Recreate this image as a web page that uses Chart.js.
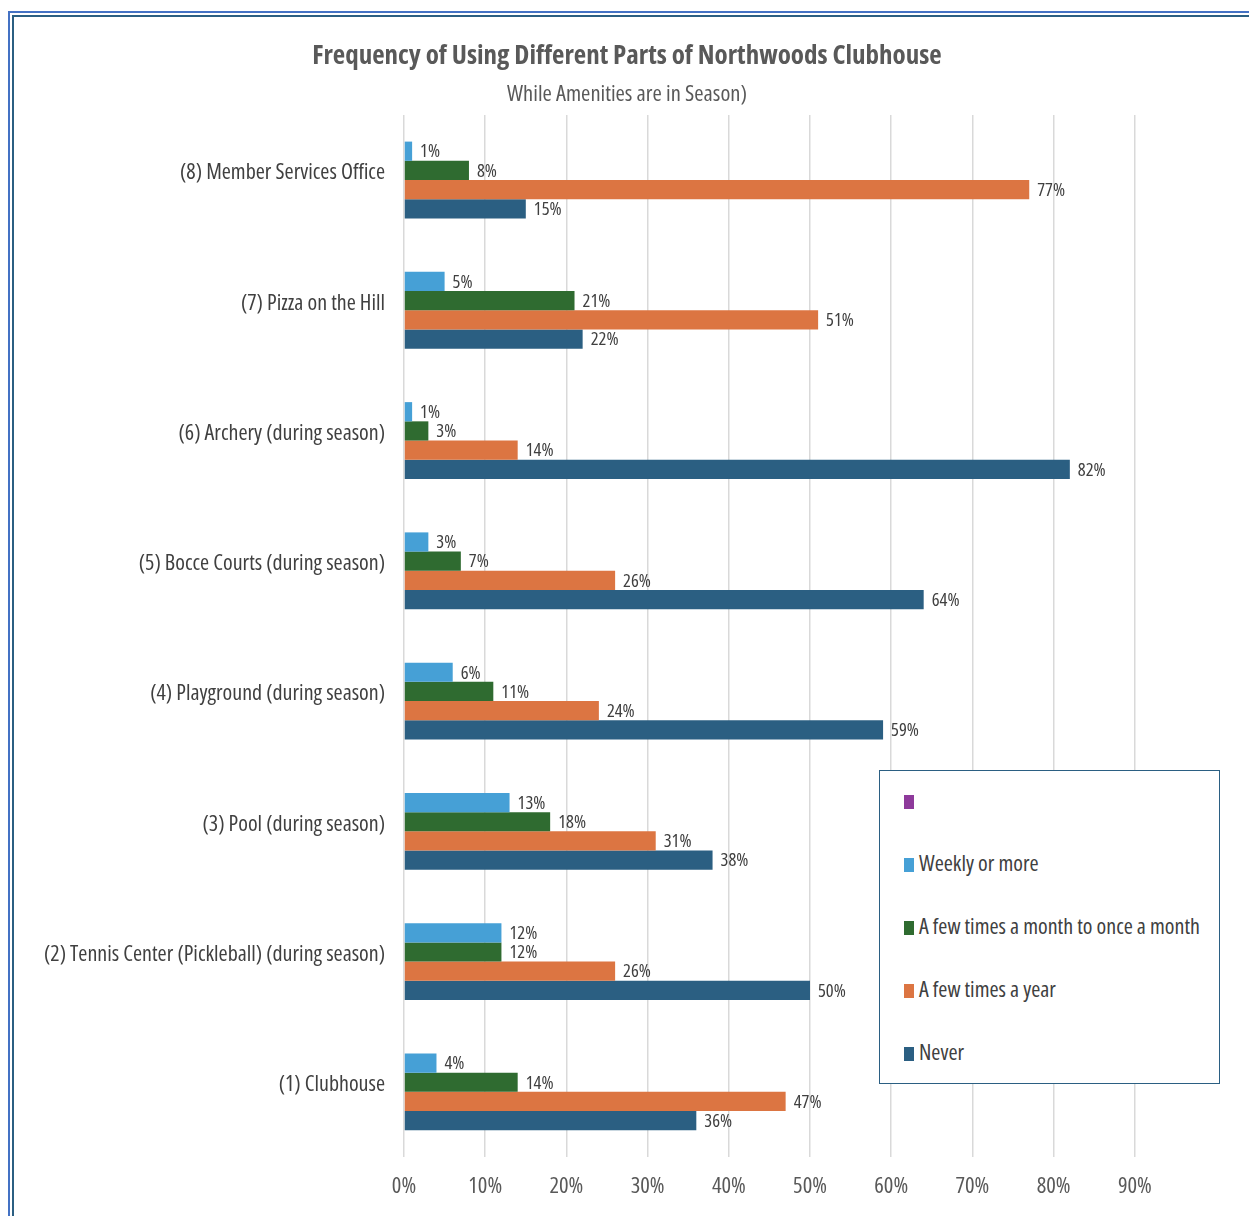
<!DOCTYPE html>
<html>
<head>
<meta charset="utf-8">
<script src="https://cdn.jsdelivr.net/npm/chart.js@4.4.1/dist/chart.umd.min.js"></script>
<style>
  html, body { margin: 0; padding: 0; background: #fff; }
  #wrap { position: relative; width: 1249px; height: 1216px; overflow: hidden; }
  #chart { position: absolute; left: 0; top: 0; }
  .frame { position: absolute; pointer-events: none; }
  #frameOuter { left: 8px; top: 11px; width: 1300px; height: 1300px; border: 2px solid #4472c4; }
  #frameInner { left: 12px; top: 15px; width: 1300px; height: 1300px; border-left: 2px solid #2b5f82; border-top: 2px solid #2b5f82; }
  #legend {
    position: absolute; left: 879px; top: 770px; width: 339px; height: 312px;
    border: 1.5px solid #2b5f82; background: #fff;
    font-family: 'Open Sans', sans-serif; font-stretch: condensed;
    font-size: 22px; color: #404040;
  }
  .item { position: absolute; left: 24px; height: 26px; line-height: 26px; white-space: nowrap; }
  .item span.sw { display: inline-block; width: 10px; height: 14px; margin-right: 5px; vertical-align: -1px; }
</style>
</head>
<body>
<div id="wrap">
  <canvas id="chart" width="1249" height="1216"></canvas>
  <div id="legend"></div>
  <div class="frame" id="frameOuter"></div>
  <div class="frame" id="frameInner"></div>
</div>
<script>
const categories = [
  "(8) Member Services Office",
  "(7) Pizza on the Hill",
  "(6) Archery (during season)",
  "(5) Bocce Courts (during season)",
  "(4) Playground (during season)",
  "(3) Pool (during season)",
  "(2) Tennis Center (Pickleball) (during season)",
  "(1) Clubhouse"
];

const weekly  = [1, 5, 1, 3, 6, 13, 12, 4];
const monthly = [8, 21, 3, 7, 11, 18, 12, 14];
const yearly  = [77, 51, 14, 26, 24, 31, 26, 47];
const never   = [15, 22, 82, 64, 59, 38, 50, 36];

const seriesNames = ["Weekly or more", "A few times a month to once a month", "A few times a year", "Never"];
const seriesColors = ["#46a0d6", "#2f6b30", "#dc7542", "#2b5f82"];
const xTicks = [0, 10, 20, 30, 40, 50, 60, 70, 80, 90];

const FONT = "'Open Sans', sans-serif";

// percentage labels just past the end of each bar
const barLabels = {
  id: "barLabels",
  afterDatasetsDraw(chart) {
    const ctx = chart.ctx;
    ctx.save();
    ctx.font = "condensed 18.5px " + FONT;
    ctx.fillStyle = "#404040";
    ctx.textBaseline = "middle";
    ctx.textAlign = "left";
    chart.data.datasets.forEach((ds, i) => {
      chart.getDatasetMeta(i).data.forEach((bar, j) => {
        ctx.fillText(ds.data[j] + "%", bar.x + 8, bar.y + 1);
      });
    });
    ctx.restore();
  }
};

const seriesData = [weekly, monthly, yearly, never];

const chart = new Chart(document.getElementById("chart"), {
  type: "bar",
  data: {
    labels: categories,
    datasets: seriesData.map((d, i) => ({
      label: seriesNames[i],
      data: d,
      backgroundColor: seriesColors[i],
      borderWidth: 0,
      barPercentage: 1,
      categoryPercentage: 0.59
    }))
  },
  options: {
    indexAxis: "y",
    responsive: false,
    animation: false,
    layout: { padding: { left: 38, right: 33, top: 0, bottom: 0 } },
    plugins: {
      legend: { display: false },
      tooltip: { enabled: false },
      title: {
        display: true,
        text: "Frequency of Using Different Parts of Northwoods Clubhouse",
        color: "#595959",
        font: { family: FONT, size: 27, weight: "bold condensed" },
        padding: { top: 40, bottom: 9 }
      },
      subtitle: {
        display: true,
        text: "While Amenities are in Season)",
        color: "#595959",
        font: { family: FONT, size: 22.5, weight: "condensed" },
        padding: { top: 0, bottom: 6.5 }
      }
    },
    scales: {
      x: {
        min: 0,
        max: 100,
        afterBuildTicks(scale) {
          scale.ticks = xTicks.map(v => ({ value: v }));
        },
        afterFit(scale) { scale.height = 59; },
        grid: { color: "#d9d9d9", lineWidth: 1.5, drawTicks: false },
        border: { display: false },
        ticks: {
          padding: 16.5,
          color: "#595959",
          font: { family: FONT, size: 22.5, weight: "condensed" },
          callback: v => v + "%"
        }
      },
      y: {
        afterFit(scale) { scale.width = 366; },
        grid: { display: false, drawTicks: false },
        border: { display: false },
        ticks: {
          padding: 19,
          labelOffset: -7,
          color: "#404040",
          font: { family: FONT, size: 22, weight: "condensed" }
        }
      }
    }
  },
  plugins: [barLabels]
});

// legend box, built from the same series
const legend = document.getElementById("legend");
const legendItems = [{ name: "", color: "#8e3a9b" }].concat(
  seriesNames.map((n, i) => ({ name: n, color: seriesColors[i] }))
);
legendItems.forEach((it, i) => {
  const div = document.createElement("div");
  div.className = "item";
  div.style.top = (15 + i * 63) + "px";
  div.innerHTML = '<span class="sw" style="background:' + it.color + '"></span>' + it.name;
  legend.appendChild(div);
});
</script>
</body>
</html>
